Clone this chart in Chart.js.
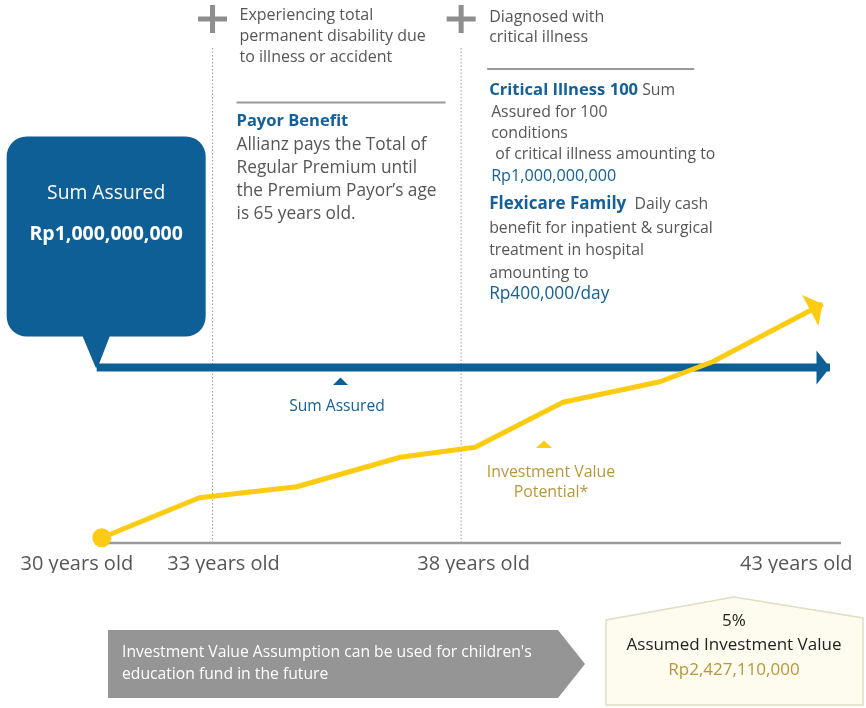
<!DOCTYPE html>
<html lang="en">
<head>
<meta charset="UTF-8">
<title>Investment Value Potential</title>
<script src="https://cdn.jsdelivr.net/npm/chart.js@4.4.1/dist/chart.umd.min.js"></script>
<style>
    html, body { margin: 0; padding: 0; background: #fff; }
    #chart { display: block; }
</style>
</head>
<body>
<canvas id="chart" width="866" height="708"></canvas>
<script>
/**
 * Данные графика. Ось X - условная шкала времени (0 = 30 лет, 100 = конец стрелки),
 * ось Y - условная шкала стоимости (0 = ось, 100 = верх области графика).
 */
const AGE_LABELS = ['30 years old', '33 years old', '38 years old', '43 years old'];
const AGE_TICKS = [-2.7, 17.3, 51.4, 95.4];

const INVEST_X = [0.7, 14.0, 27.3, 41.4, 51.6, 63.6, 76.8, 84.0, 99.0];
const INVEST_Y = [2.1, 18.1, 22.5, 34.3, 38.3, 56.3, 64.5, 72.5, 95.6];

const SUM_ASSURED_X = [0, 100];
const SUM_ASSURED_Y = [70.2, 70.2];

const AXIS_X = [0.7, 101.5];
const EVENT_X = [15.8, 49.7];
const EVENT_TOP = 198;

const BLUE = '#0e5f96';
const BLUE_TEXT = '#13609a';
const YELLOW = '#fdcc12';
const GOLD = '#b8973a';
const GRAY_TEXT = '#565656';
const FONT = '"Open Sans", Lato, sans-serif';

/**
 * Тексты подписей.
 */
const EVENT_1_LINES = ['Experiencing total', 'permanent disability due', 'to illness or accident'];
const EVENT_2_LINES = ['Diagnosed with', 'critical illness'];
const PAYOR_LINES = ['Allianz pays the Total of', 'Regular Premium until', 'the Premium Payor\u2019s age', 'is 65 years old.'];
const NOTE_LINES = ['Investment Value Assumption can be used for children\'s', 'education fund in the future'];
const RESULT_LINES = ['5%', 'Assumed Investment Value', 'Rp2,427,110,000'];

const font = (size, weight) => `${weight || 'normal'} ${size}px ${FONT}`;

/**
 * Рисуем строку из нескольких кусков с разными стилями.
 */
const drawRich = (ctx, x, y, parts) => {
    let cx = x;
    parts.forEach(([text, f, color]) => {
        ctx.font = f;
        ctx.fillStyle = color;
        ctx.fillText(text, cx, y);
        cx += ctx.measureText(text).width;
    });
};

const drawLines = (ctx, x, ys, lines, f, color, align) => {
    ctx.font = f;
    ctx.fillStyle = color;
    ctx.textAlign = align || 'left';
    lines.forEach((line, i) => ctx.fillText(line, x, ys[i]));
    ctx.textAlign = 'left';
};

/**
 * Наконечник стрелки по направлению последнего отрезка линии.
 */
const drawHead = (ctx, from, to, len, halfW, color) => {
    const dx = to.x - from.x;
    const dy = to.y - from.y;
    const d = Math.hypot(dx, dy);
    const ux = dx / d, uy = dy / d;
    const bx = to.x - ux * len, by = to.y - uy * len;
    ctx.beginPath();
    ctx.moveTo(to.x, to.y);
    ctx.lineTo(bx - uy * halfW, by + ux * halfW);
    ctx.lineTo(bx + uy * halfW, by - ux * halfW);
    ctx.closePath();
    ctx.fillStyle = color;
    ctx.fill();
};

const drawPlus = (ctx, cx, cy) => {
    ctx.fillStyle = '#8e8e8e';
    ctx.fillRect(cx - 14.5, cy - 2.5, 29, 5);
    ctx.fillRect(cx - 2.5, cy - 14, 5, 28);
};

const infographicPlugin = {
    id: 'infographic',
    afterDatasetsDraw(chart) {
        const ctx = chart.ctx;
        const yellow = chart.getDatasetMeta(0).data;
        const blue = chart.getDatasetMeta(1).data;
        ctx.save();
        drawHead(ctx, yellow[yellow.length - 2], yellow[yellow.length - 1], 14, 17.5, YELLOW);
        drawHead(ctx, blue[0], blue[blue.length - 1], 13.5, 17, BLUE);
        ctx.restore();
    },
    afterDraw(chart) {
        const ctx = chart.ctx;
        const xs = chart.scales.x;
        const tip = chart.getDatasetMeta(1).data[0];
        ctx.save();
        ctx.textBaseline = 'middle';

        /** Плюсы над пунктирными линиями */
        const e1 = xs.getPixelForValue(EVENT_X[0]);
        const e2 = xs.getPixelForValue(EVENT_X[1]);
        drawPlus(ctx, e1, 19);
        drawPlus(ctx, e2, 19);

        /** Выноска Sum Assured */
        const bl = tip.x - 90, br = tip.x + 109, bt = tip.y - 231, bb = tip.y - 31, r = 20;
        ctx.beginPath();
        ctx.moveTo(bl + r, bt);
        ctx.lineTo(br - r, bt);
        ctx.arcTo(br, bt, br, bt + r, r);
        ctx.lineTo(br, bb - r);
        ctx.arcTo(br, bb, br - r, bb, r);
        ctx.lineTo(tip.x + 13, bb);
        ctx.lineTo(tip.x + 1, tip.y);
        ctx.lineTo(tip.x - 1, tip.y);
        ctx.lineTo(tip.x - 14, bb);
        ctx.lineTo(bl + r, bb);
        ctx.arcTo(bl, bb, bl, bb - r, r);
        ctx.lineTo(bl, bt + r);
        ctx.arcTo(bl, bt, bl + r, bt, r);
        ctx.closePath();
        ctx.fillStyle = BLUE;
        ctx.fill();
        const bc = (bl + br) / 2;
        drawLines(ctx, bc, [194], ['Sum Assured'], font(19.3), '#ffffff', 'center');
        drawLines(ctx, bc, [234], ['Rp1,000,000,000'], font(19.5, 'bold'), '#ffffff', 'center');

        /** Блок 1: инвалидность */
        const x1 = e1 + 27;
        drawLines(ctx, x1, [15, 36, 57], EVENT_1_LINES, font(16), GRAY_TEXT);
        ctx.fillStyle = '#9a9a9a';
        ctx.fillRect(x1 - 3, 101.5, 209, 2);
        drawLines(ctx, x1 - 3, [121], ['Payor Benefit'], font(16.5, 'bold'), BLUE_TEXT);
        drawLines(ctx, x1 - 3, [145, 168, 191, 214], PAYOR_LINES, font(17.3), GRAY_TEXT);

        /** Блок 2: критическое заболевание */
        const x2 = e2 + 28;
        drawLines(ctx, x2, [17, 37], EVENT_2_LINES, font(16), GRAY_TEXT);
        ctx.fillStyle = '#9a9a9a';
        ctx.fillRect(x2 - 2, 68, 207, 2);
        drawRich(ctx, x2, 90, [['Critical Illness 100', font(16.6, 'bold'), BLUE_TEXT], [' Sum', font(15.8), GRAY_TEXT]]);
        drawLines(ctx, x2 + 2, [112.5, 133], ['Assured for 100', 'conditions'], font(15.8), GRAY_TEXT);
        drawLines(ctx, x2 + 2, [154.5], [' of critical illness amounting to'], font(15.8), GRAY_TEXT);
        drawLines(ctx, x2 + 2, [176], ['Rp1,000,000,000'], font(16.2), BLUE_TEXT);
        drawRich(ctx, x2, 204, [['Flexicare Family', font(17, 'bold'), BLUE_TEXT], ['  Daily cash', font(15.8), GRAY_TEXT]]);
        drawLines(ctx, x2, [228, 250, 273], ['benefit for inpatient & surgical', 'treatment in hospital', 'amounting to'], font(15.8), GRAY_TEXT);
        drawLines(ctx, x2, [294], ['Rp400,000/day'], font(17.3), BLUE_TEXT);

        /** Подписи под линиями */
        ctx.fillStyle = BLUE;
        ctx.beginPath();
        ctx.moveTo(333, 385); ctx.lineTo(348, 385); ctx.lineTo(340.5, 377.5);
        ctx.closePath(); ctx.fill();
        drawLines(ctx, 337, [407], ['Sum Assured'], font(15.6), BLUE_TEXT, 'center');

        ctx.fillStyle = YELLOW;
        ctx.beginPath();
        ctx.moveTo(536, 448); ctx.lineTo(552, 448); ctx.lineTo(544, 440.5);
        ctx.closePath(); ctx.fill();
        drawLines(ctx, 551, [472, 492], ['Investment Value', 'Potential*'], font(15.9), GOLD, 'center');

        /** Серая стрелка-примечание */
        ctx.fillStyle = '#959595';
        ctx.beginPath();
        ctx.moveTo(108, 630); ctx.lineTo(558, 630); ctx.lineTo(585, 664);
        ctx.lineTo(558, 698); ctx.lineTo(108, 698);
        ctx.closePath(); ctx.fill();
        drawLines(ctx, 122, [653, 675], NOTE_LINES, font(15.7), '#ffffff');

        /** Итоговая стоимость */
        ctx.fillStyle = '#fdfcef';
        ctx.strokeStyle = '#e2ddc4';
        ctx.lineWidth = 1.5;
        ctx.beginPath();
        ctx.moveTo(606, 705); ctx.lineTo(606, 620); ctx.lineTo(734, 597);
        ctx.lineTo(863, 618); ctx.lineTo(863, 705);
        ctx.closePath(); ctx.fill(); ctx.stroke();
        drawLines(ctx, 734, [621, 645], RESULT_LINES.slice(0, 2), font(17), '#222222', 'center');
        drawLines(ctx, 734, [670], [RESULT_LINES[2]], font(17), GOLD, 'center');

        ctx.restore();
    }
};

const onDOMLoaded = () => {
    const CHART = document.getElementById('chart').getContext('2d');

    const toPoints = (xs, ys) => xs.map((x, i) => ({x, y: ys[i]}));

    const eventSets = EVENT_X.map((x) => ({
        data: [{x, y: 0}, {x, y: EVENT_TOP}],
        borderColor: '#9a9a9a',
        borderWidth: 1,
        borderDash: [1.5, 2],
        pointRadius: 0,
        clip: false
    }));

    new Chart(CHART, {
        type: 'line',
        data: {
            datasets: [
                {
                    label: 'Investment Value Potential',
                    data: toPoints(INVEST_X, INVEST_Y),
                    borderColor: YELLOW,
                    borderWidth: 5,
                    borderJoinStyle: 'round',
                    pointRadius: (c) => c.dataIndex === 0 ? 9.5 : 0,
                    pointBackgroundColor: YELLOW,
                    pointBorderWidth: 0,
                    clip: false
                },
                {
                    label: 'Sum Assured',
                    data: toPoints(SUM_ASSURED_X, SUM_ASSURED_Y),
                    borderColor: BLUE,
                    borderWidth: 8,
                    pointRadius: 0,
                    clip: false
                },
                {
                    label: 'axis',
                    data: AXIS_X.map((x) => ({x, y: 0})),
                    borderColor: '#9b9b9b',
                    borderWidth: 2.5,
                    pointRadius: 0,
                    clip: false
                },
                ...eventSets
            ]
        },
        options: {
            responsive: false,
            devicePixelRatio: 1,
            animation: false,
            events: [],
            layout: {padding: {left: 60, right: 36, top: 293, bottom: 135}},
            plugins: {legend: {display: false}, tooltip: {enabled: false}},
            scales: {
                x: {
                    type: 'linear',
                    min: -5,
                    max: 100,
                    grid: {display: false, drawTicks: false},
                    border: {display: false},
                    afterBuildTicks: (s) => { s.ticks = AGE_TICKS.map((v) => ({value: v})); },
                    afterFit: (s) => { s.height = 30; },
                    ticks: {
                        padding: 9,
                        autoSkip: false,
                        maxRotation: 0,
                        color: GRAY_TEXT,
                        font: {family: FONT, size: 20},
                        callback: (v, i) => AGE_LABELS[i]
                    }
                },
                y: {display: false, min: 0, max: 100}
            }
        },
        plugins: [infographicPlugin]
    });
};

document.addEventListener('DOMContentLoaded', onDOMLoaded);
</script>
</body>
</html>
